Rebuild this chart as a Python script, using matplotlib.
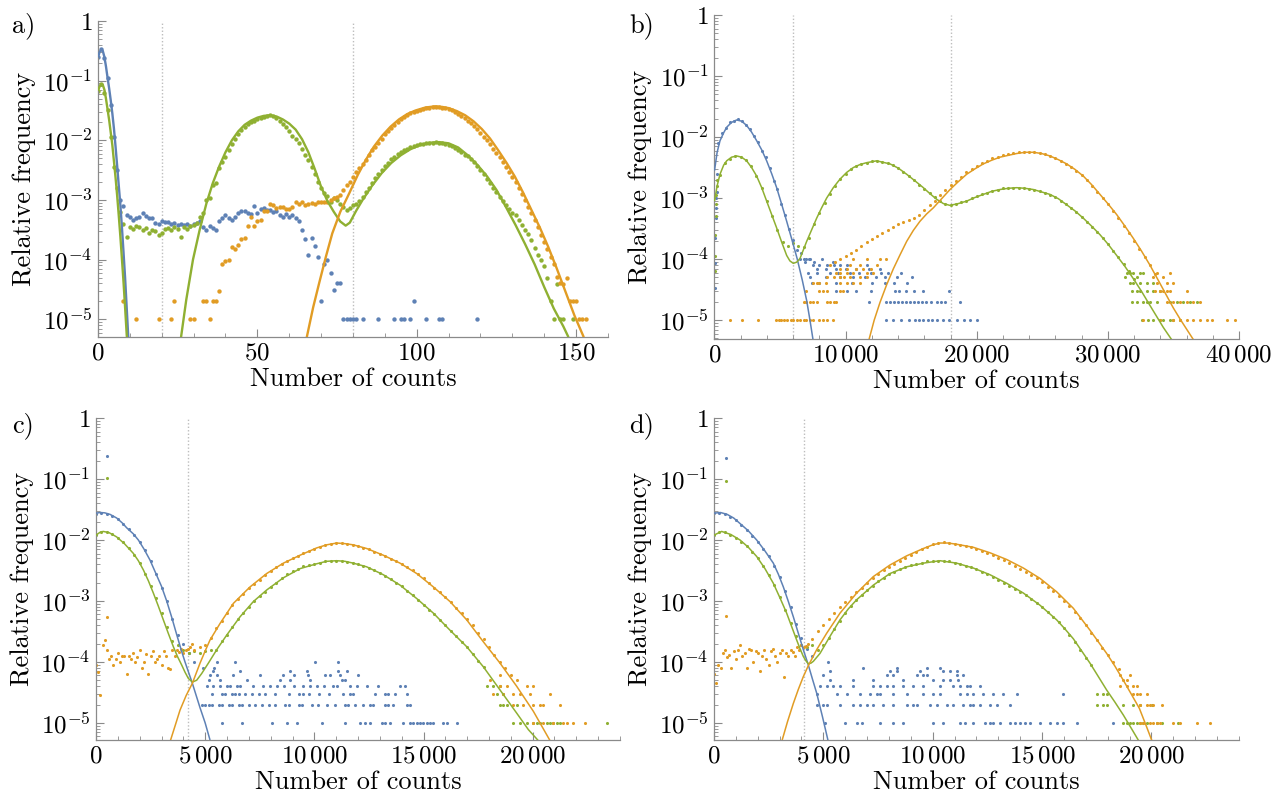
import numpy as np
import matplotlib.pyplot as plt
from matplotlib.ticker import MultipleLocator, LogLocator, NullFormatter

plt.rcParams['font.family'] = 'cmr10'
plt.rcParams['mathtext.fontset'] = 'cm'
plt.rcParams['axes.unicode_minus'] = False

BLUE = '#5E81B5'
ORANGE = '#E19C24'
GREEN = '#8FB032'
FRAME = '#8a8a8a'

# ---------------- panel a) : one bin per count, values are log10(relative frequency)
a_blue_log = [-0.6, -0.47, -0.62, -0.95, -1.4, -1.95, -2.5, -3.0, -3.1, -3.25,
              -3.28, -3.33, -3.31, -3.28, -3.22, -3.27, -3.31, -3.3, -3.38, -3.4,
              -3.35, -3.37, -3.37, -3.4, -3.39, -3.42, -3.4, -3.42, -3.4, -3.43,
              -3.41, -3.38, -3.36, -3.45, -3.5, -3.43, -3.47, -3.5, -3.35, -3.3,
              -3.25, -3.3, -3.33, -3.28, -3.22, -3.18, -3.19, -3.21, -3.24, -3.1,
              -3.22, -3.15, -3.14, -3.17, -3.16, -3.2, -3.18, -3.25, -3.28, -3.24,
              -3.28, -3.26, -3.3, -3.36, -3.5, -3.65, -3.92, -3.64, -3.77, -3.95,
              -4.7, -4.08, -4.0, -4.22, -4.51, -4.39, -4.39]
a_blue_sparse = [(1, [77, 78, 79, 80, 81, 83, 88, 93, 95, 96, 98, 103, 107, 108, 119]),
                 (2, [99])]
a_green_log = [-1.17, -1.05, -1.2, -1.5, -1.95, -2.45, -2.8, -3.2, -3.4, -3.62,
               -3.45, -3.48, -3.44, -3.46, -3.5, -3.47, -3.55, -3.5, -3.52, -3.58,
               -3.56, -3.48, -3.47, -3.5, -3.46, -3.49, -3.62, -3.45, -3.48, -3.43,
               -3.42, -3.38, -3.28, -3.22, -3.0, -2.97, -2.75, -2.72, -2.47, -2.36,
               -2.28, -2.17, -2.06, -1.97, -1.89, -1.83, -1.78, -1.73, -1.69, -1.67,
               -1.64, -1.62, -1.61, -1.59, -1.58, -1.6, -1.62, -1.67, -1.72, -1.78,
               -1.84, -1.92, -1.98, -2.04, -2.14, -2.25, -2.33, -2.45, -2.56, -2.7,
               -2.8, -2.88, -2.94, -3.04, -2.97, -3.0, -3.06, -3.12, -3.17, -3.14,
               -3.08, -3.06, -3.02, -2.95, -2.87, -2.8, -2.72, -2.63, -2.57, -2.5,
               -2.43, -2.38, -2.32, -2.28, -2.23, -2.2, -2.17, -2.15, -2.12, -2.1,
               -2.08, -2.07, -2.06, -2.05, -2.04, -2.04, -2.03, -2.04, -2.05, -2.06,
               -2.08, -2.1, -2.13, -2.16, -2.19, -2.24, -2.27, -2.32, -2.37, -2.43,
               -2.5, -2.56, -2.64, -2.72, -2.8, -2.87, -2.95, -3.02, -3.08, -3.15,
               -3.22, -3.26, -3.33, -3.42, -3.5, -3.57, -3.67, -3.8, -3.92, -4.0,
               -4.11, -4.3, -4.7, -5.0, -4.4, -5.0, -5.0]
a_green_sparse = [(1, [149])]
a_orange_sparse = [(1, [12, 19, 23, 29, 30, 35]),
                   (2, [8, 24, 33, 34, 36, 37])]
a_orange_start = 38
a_orange_log = [-4.52, -4.08, -4.03, -4.0, -3.78, -3.82, -3.75, -3.66, -3.64, -3.44,
                -3.28, -3.44, -3.36, -3.33, -3.19, -3.19, -3.06, -3.08, -3.14, -3.12,
                -3.11, -3.15, -3.15, -3.12, -3.03, -3.06, -3.04, -3.08, -3.06, -3.05,
                -3.07, -3.04, -3.03, -3.04, -3.03, -3.0, -2.97, -2.95, -2.92, -2.83,
                -2.75, -2.7, -2.62, -2.53, -2.47, -2.39, -2.33, -2.25, -2.17, -2.11,
                -2.04, -1.97, -1.9, -1.84, -1.79, -1.74, -1.69, -1.65, -1.61, -1.58,
                -1.55, -1.53, -1.51, -1.49, -1.47, -1.46, -1.45, -1.44, -1.44, -1.44,
                -1.45, -1.46, -1.48, -1.5, -1.53, -1.56, -1.59, -1.63, -1.67, -1.71,
                -1.76, -1.81, -1.87, -1.94, -2.0, -2.07, -2.14, -2.21, -2.28, -2.37,
                -2.44, -2.53, -2.62, -2.7, -2.8, -2.9, -3.0, -3.12, -3.22, -3.33,
                -3.45, -3.58, -3.7, -3.83, -3.95, -4.08, -4.29, -4.39, -4.4, -4.31,
                -4.7, -4.7, -4.7, -5.0, -5.0, -5.0]

# fitted curves, (count, log10 frequency)
a_blue_fit = [(0, -0.61), (0.5, -0.52), (1, -0.48), (1.5, -0.5), (2, -0.6), (2.5, -0.76),
              (3, -0.95), (3.5, -1.13), (4, -1.33), (4.5, -1.55), (5, -1.8), (5.5, -2.1),
              (6, -2.42), (6.5, -2.75), (7, -3.07), (7.5, -3.45), (8, -3.87), (8.5, -4.3),
              (9, -4.8), (9.5, -5.3)]
a_green_fit_low = [(0, -1.17), (0.5, -1.1), (1, -1.06), (1.5, -1.07), (2, -1.15), (2.5, -1.3),
                   (3, -1.48), (3.5, -1.66), (4, -1.87), (4.5, -2.08), (5, -2.35), (5.5, -2.62),
                   (6, -2.92), (6.5, -3.25), (7, -3.6), (7.5, -3.98), (8, -4.37), (8.5, -4.8),
                   (9, -5.25), (9.1, -5.32)]
a_green_fit_high = [(26.0, -5.32), (27.7, -4.67), (29.8, -4.0), (31.9, -3.5), (34, -3.06),
                    (36, -2.72), (38, -2.44), (40, -2.2), (42, -2.0), (44, -1.85), (46, -1.74),
                    (48, -1.67), (50, -1.62), (52, -1.59), (54, -1.58), (56, -1.6), (58, -1.65),
                    (60, -1.72), (62, -1.82), (64, -1.98), (66, -2.2), (68, -2.48), (70, -2.78),
                    (72, -3.02), (74, -3.2), (76, -3.36), (77.7, -3.43), (79, -3.38), (81, -3.18),
                    (83, -3.0), (86, -2.76), (89, -2.55), (92, -2.38), (95, -2.25), (98, -2.15),
                    (101, -2.08), (104, -2.04), (107, -2.03), (110, -2.05), (113, -2.12),
                    (116, -2.25), (119, -2.41), (122, -2.6), (125, -2.83), (128, -3.12),
                    (131, -3.42), (134, -3.74), (137, -4.08), (140, -4.46), (143, -4.82),
                    (146, -5.12), (147.6, -5.3)]
a_orange_fit = [(65.5, -5.3), (67.5, -4.8), (69.4, -4.39), (71.5, -3.95), (73.5, -3.56),
                (76, -3.2), (78.8, -2.89), (81.5, -2.58), (84, -2.33), (86.5, -2.11),
                (89.2, -1.92), (91.8, -1.77), (94.4, -1.65), (97, -1.56), (99.6, -1.5),
                (102.7, -1.45), (105.8, -1.43), (108, -1.44), (110, -1.46), (112.6, -1.51),
                (115.2, -1.58), (117.8, -1.68), (120.4, -1.81), (123, -1.97), (125.6, -2.17),
                (128.2, -2.38), (130.8, -2.61), (133.4, -2.88), (136, -3.17), (138.6, -3.46),
                (141.2, -3.78), (143.8, -4.13), (146.4, -4.5), (149.5, -4.94), (152.4, -5.3)]

# ---------------- panel b)
b_blue_step = 300
b_blue_log = [-2.45, -2.1, -1.93, -1.85, -1.76, -1.74, -1.71, -1.74, -1.81, -1.87,
              -1.99, -2.08, -2.23, -2.33, -2.5, -2.72, -2.85, -3.1, -3.28, -3.5,
              -3.68, -3.85, -3.9, -4.05, -4.0]
b_blue_first = [(20, -4.48), (40, -4.07), (60, -3.66), (80, -3.33), (100, -3.17),
                (130, -3.0), (160, -2.9), (190, -2.6)]
b_green_first = [(20, -4.2), (40, -3.95), (60, -3.6), (80, -3.3), (100, -3.1),
                 (130, -2.95), (160, -2.8), (190, -2.7)]
b_green_step = 400
b_green_log = [-2.95, -2.62, -2.43, -2.36, -2.31, -2.33, -2.38, -2.48, -2.64, -2.83,
               -3.05, -3.3, -3.52, -3.72, -3.78, -3.74, -3.78, -3.8, -3.65, -3.42,
               -3.24, -3.08, -2.93, -2.8, -2.69, -2.6, -2.52, -2.47, -2.44, -2.42,
               -2.4, -2.39, -2.41, -2.43, -2.46, -2.51, -2.58, -2.64, -2.7, -2.78,
               -2.85, -2.92, -2.98, -3.04, -3.09, -3.11, -3.1, -3.07, -3.04, -3.0,
               -2.97, -2.94, -2.91, -2.88, -2.86, -2.84, -2.83, -2.83, -2.83, -2.84,
               -2.85, -2.87, -2.89, -2.92, -2.95, -2.99, -3.04, -3.1, -3.16, -3.23,
               -3.31, -3.39, -3.47, -3.56, -3.65, -3.75, -3.86, -3.97, -4.08, -4.2, -4.32]
b_orange_start = 8800
b_orange_step = 400
b_orange_log = [-4.1, -4.05, -4.0, -3.95, -3.9, -3.85, -3.78, -3.72, -3.67, -3.62,
                -3.57, -3.52, -3.47, -3.43, -3.4, -3.36, -3.32, -3.27, -3.2, -3.12,
                -3.04, -2.95, -2.86, -2.79, -2.72, -2.65, -2.58, -2.52, -2.47, -2.43,
                -2.39, -2.35, -2.32, -2.3, -2.28, -2.26, -2.25, -2.24, -2.24, -2.25,
                -2.26, -2.28, -2.31, -2.34, -2.39, -2.44, -2.49, -2.56, -2.63, -2.71,
                -2.8, -2.9, -3.0, -3.1, -3.21, -3.33, -3.45, -3.57, -3.7, -3.83,
                -3.96, -4.1, -4.25]
# sparse bins: (number of events per 1e5, bin positions)
b_blue_noise = [(10, [6500, 6800, 7000, 7300, 8200]),
                (9, [7600, 9000]),
                (8, [7500, 8000, 8600, 9100, 9600, 10100, 11600]),
                (7, [7800, 8500, 9300, 10000, 10800, 11800, 12600]),
                (6, [7100, 7800, 8800, 9400, 10300, 11000, 11900, 12700, 13200, 14200]),
                (5, [7300, 8500, 9600, 10600, 11500, 12300, 13000, 13900, 15100]),
                (4, [7400, 8000, 9300, 10500, 12000, 13000, 13700, 14700]),
                (3, [9300, 10100, 10800, 11900, 13800, 14100, 14600, 15200, 15900, 17900]),
                (2, [11800, 13100, 13400, 13700, 14000, 14300, 14600, 14900, 15200, 15500,
                     15800, 16100, 16500, 17000, 17300, 17600, 18700]),
                (1, [13100, 13600, 14200, 14800, 15300, 15600, 15900, 16300, 16600, 17000,
                     17400, 17900, 18500, 19000, 19500, 20000])]
b_orange_noise = [(1, [1200, 2100, 3300, 4700, 4900, 5100, 5300, 5500, 5800, 6000, 6300,
                       6500, 6800, 7000, 7300, 7500, 8000, 8300, 8600, 9000]),
                  (2, [6800, 7000, 7300, 7500, 7800, 8600, 8800, 9100, 9300]),
                  (3, [7000, 8000, 8300, 8600, 9600, 9800]),
                  (4, [7500, 7800, 8000, 8500, 9600, 10100, 10600, 11100]),
                  (5, [8600, 9100, 9600, 9900, 10300, 11100, 11600]),
                  (6, [9300, 9600, 10100, 10600, 11600, 12100]),
                  (7, [9600, 10100, 10800, 11300, 11900]),
                  (8, [10300, 11100, 12400]),
                  (10, [10600, 11600, 12600, 13100]),
                  (6, [33720, 34740]),
                  (5, [33470, 34230]),
                  (4, [33720, 34480, 34990]),
                  (3, [33590, 33970, 34230, 34480, 34740, 36010]),
                  (2, [34480, 34990, 35500, 36010, 36520, 37020]),
                  (1, [32700, 33970, 34990, 35500, 36010, 36520, 37020, 37530, 37910,
                       39060, 39690])]
b_green_noise = [(6, [31430, 31690, 31940, 32450, 32700]),
                 (5, [31310, 32200]),
                 (4, [31690, 31940, 32450, 32960, 33470]),
                 (3, [31820, 32200, 32450, 32960, 33470, 33970]),
                 (2, [31820, 32200, 32700, 32960, 33210, 33720, 34740, 35250, 35750,
                      36260, 36770]),
                 (1, [32580, 33090, 33470, 33970, 34230, 34740, 34990, 35500])]
b_blue_fit = [(0, -2.55), (200, -2.25), (420, -2.06), (700, -1.93), (928, -1.84),
              (1300, -1.76), (1690, -1.72), (2070, -1.74), (2453, -1.81), (2830, -1.92),
              (3216, -2.06), (3600, -2.21), (3978, -2.39), (4360, -2.6), (4741, -2.83),
              (5120, -3.1), (5504, -3.38), (5900, -3.68), (6300, -3.99), (6700, -4.35),
              (7030, -4.68), (7280, -5.0), (7520, -5.33)]
b_green_fit = [(0, -3.05), (200, -2.8), (420, -2.61), (700, -2.46), (928, -2.39), (1300, -2.33),
               (1690, -2.31), (2070, -2.33), (2453, -2.39), (2830, -2.5), (3216, -2.64),
               (3600, -2.83), (3978, -3.05), (4360, -3.27), (4741, -3.49), (5120, -3.72),
               (5504, -3.94), (5750, -4.03), (6012, -4.07), (6270, -4.05), (6520, -3.99),
               (7029, -3.71), (7410, -3.52), (7791, -3.33), (8170, -3.16), (8554, -3.0),
               (9060, -2.83), (9571, -2.69), (10080, -2.58), (10588, -2.5), (11100, -2.45),
               (11605, -2.42), (12368, -2.39), (13385, -2.44), (14020, -2.51), (14656, -2.61),
               (15300, -2.72), (15927, -2.83), (16440, -2.93), (16944, -3.02), (17450, -3.09),
               (17959, -3.12), (18600, -3.09), (19230, -3.05), (19870, -2.99), (20501, -2.94),
               (21140, -2.89), (21772, -2.86), (22400, -2.84), (23043, -2.83), (23680, -2.84),
               (24314, -2.86), (24950, -2.9), (25585, -2.94), (26220, -3.01), (26856, -3.11),
               (27490, -3.21), (28127, -3.33), (28760, -3.46), (29398, -3.6), (30030, -3.76),
               (30669, -3.94), (31300, -4.12), (31940, -4.32), (32570, -4.53), (33211, -4.76),
               (33720, -4.94), (34228, -5.12), (34990, -5.36)]
b_orange_fit = [(11732, -5.36), (12180, -5.0), (12622, -4.71), (13130, -4.42), (13639, -4.16),
                (14150, -3.93), (14656, -3.71), (15164, -3.53), (15672, -3.38), (16180, -3.26),
                (16689, -3.16), (17325, -3.01), (17961, -2.86), (18600, -2.73), (19230, -2.61),
                (19870, -2.52), (20501, -2.44), (21140, -2.38), (21772, -2.33), (22400, -2.3),
                (23043, -2.27), (23680, -2.25), (24314, -2.25), (24950, -2.27), (25585, -2.31),
                (26220, -2.37), (26856, -2.44), (27490, -2.53), (28127, -2.64), (28760, -2.78),
                (29398, -2.94), (30030, -3.1), (30669, -3.27), (31300, -3.46), (31940, -3.66),
                (32570, -3.87), (33211, -4.1), (33850, -4.35), (34482, -4.6), (34990, -4.8),
                (35499, -4.98), (36070, -5.17), (36643, -5.36)]

# ---------------- panel c)
c_blue_log = [-1.57, -1.55, -1.57, -1.6, -1.65, -1.73, -1.82, -1.92, -2.03, -2.17,
              -2.35, -2.55, -2.78, -3.0, -3.3, -3.55, -3.7, -3.85, -4.0]
c_green_log = [-1.92, -1.87, -1.87, -1.9, -1.96, -2.04, -2.13, -2.24, -2.38, -2.55,
               -2.75, -2.95, -3.2, -3.42, -3.65, -3.72, -3.8, -3.85, -3.82, -3.85,
               -3.82, -3.8, -3.8, -3.65, -3.55, -3.42, -3.3, -3.2, -3.1, -3.0,
               -2.92, -2.85, -2.77, -2.7, -2.63, -2.56, -2.51, -2.47, -2.43, -2.41,
               -2.39, -2.37, -2.35, -2.34, -2.34, -2.35, -2.36, -2.38, -2.4, -2.43,
               -2.46, -2.5, -2.54, -2.59, -2.64, -2.7, -2.76, -2.83, -2.9, -2.98,
               -3.06, -3.14, -3.22, -3.31, -3.4, -3.49, -3.58, -3.67, -3.76, -3.87,
               -3.98, -4.08]
c_orange_low = [-4.05, -4.16, -4.54, -3.72, -3.64, -3.8, -3.95, -3.9, -4.05, -3.95,
                -3.85, -4.0, -3.9, -3.9, -4.2, -3.9, -3.95, -3.85, -4.0, -3.92,
                -3.8, -4.1, -4.0, -3.87, -4.2, -3.9, -3.82, -4.0, -3.95, -3.9,
                -4.05, -3.82, -3.9, -4.1, -4.12, -3.8, -3.9, -3.8, -3.83, -3.78,
                -3.85, -3.8, -3.78, -3.75, -3.7]
c_orange_log = [-3.8, -3.75, -3.72, -3.6, -3.45, -3.33, -3.2, -3.07, -2.97, -2.88,
                -2.79, -2.72, -2.65, -2.57, -2.51, -2.45, -2.4, -2.35, -2.3, -2.26,
                -2.22, -2.18, -2.14, -2.11, -2.08, -2.07, -2.05, -2.05, -2.06, -2.08,
                -2.1, -2.13, -2.15, -2.19, -2.23, -2.27, -2.31, -2.35, -2.4, -2.45,
                -2.5, -2.56, -2.63, -2.7, -2.78, -2.86, -2.94, -3.02, -3.11, -3.2,
                -3.3, -3.4, -3.52, -3.62, -3.75, -3.88, -4.0, -4.1, -4.22]
c_outliers = [(490, -0.63, BLUE), (490, -0.99, GREEN), (490, -3.26, ORANGE)]
c_blue_noise = [(1, [5750, 6670, 8050, 8730, 9190, 10340, 11400, 12090, 12320, 12550, 13080,
                     13240, 13470, 14080, 14380, 14540, 14690, 14840, 14990, 15150, 15300,
                     15450, 15910, 16060, 16520]),
                (2, [4860, 5010, 5160, 5310, 5620, 5770, 6080, 6230, 6530, 6690, 6990, 7300,
                     7600, 7910, 8220, 8670, 8830, 9280, 9430, 9880, 10190, 10570, 10950,
                     11410, 11560, 11870, 12250, 12550, 12700, 13240, 13390, 13620, 14230,
                     14380]),
                (3, [5310, 5770, 5920, 6230, 6380, 6530, 6840, 7150, 7450, 7760, 8220, 8830,
                     9280, 9500, 9740, 10200, 10650, 11330, 11640, 11790, 12780, 13240, 13390,
                     13700, 14230]),
                (4, [5070, 5380, 5680, 5990, 6140, 6450, 6600, 7210, 7670, 7970, 8280, 8590,
                     9050, 9500, 9810, 10120, 10420, 10870, 11030, 11640, 11940, 12400, 12930,
                     13930, 14150]),
                (5, [5160, 5690, 6910, 8430, 8890, 9810, 11260, 11410]),
                (6, [5220, 5530, 6290, 7500, 8580, 9050, 9730, 10490, 10720, 11180, 12020]),
                (7, [5380, 6600, 8890, 9650, 11100, 11480]),
                (8, [4900, 5400]),
                (10, [5530, 6370, 10030, 11100])]
c_orange_noise = [(6, [18500]), (5, [18050, 19300]),
                  (4, [18510, 18810, 19730, 20030]),
                  (3, [18200, 18660, 19120, 19420, 19880, 20800]),
                  (2, [19120, 19580, 20030, 20340, 20490, 21260]),
                  (1, [20030, 20490, 20950, 21410, 21560, 21870, 22400])]
c_green_noise = [(4, [17900, 18200, 18500]), (3, [18350, 18660]),
                 (2, [18500, 18660, 18810, 19270]),
                 (1, [19120, 19420, 19730, 20030, 20190, 20340, 20650, 20800, 20950,
                      21100, 21260, 23390])]
c_blue_fit = [(0, -1.56), (200, -1.55), (400, -1.555), (641, -1.58), (947, -1.64), (1200, -1.72),
              (1405, -1.8), (1710, -1.9), (1939, -2.0), (2200, -2.15), (2474, -2.33),
              (2779, -2.58), (3000, -2.76), (3237, -3.0), (3470, -3.27), (3695, -3.55),
              (3900, -3.8), (4077, -4.0), (4413, -4.35), (4764, -4.75), (5000, -5.0),
              (5222, -5.28)]
c_green_fit = [(0, -1.92), (200, -1.87), (336, -1.86), (600, -1.88), (947, -1.95), (1300, -2.06),
               (1710, -2.22), (1940, -2.34), (2168, -2.49), (2400, -2.67), (2626, -2.87),
               (2850, -3.08), (3084, -3.31), (3310, -3.53), (3543, -3.75), (3730, -3.91),
               (3924, -4.05), (4080, -4.17), (4230, -4.27), (4413, -4.33), (4611, -4.3),
               (4840, -4.19), (5146, -4.02), (5528, -3.8), (5986, -3.56), (6597, -3.26),
               (7207, -3.01), (7818, -2.82), (8582, -2.62), (9345, -2.47), (10108, -2.39),
               (10560, -2.35), (11024, -2.34), (11400, -2.35), (11787, -2.38), (12398, -2.44),
               (13161, -2.57), (13925, -2.74), (14688, -2.96), (15452, -3.2), (16215, -3.48),
               (16979, -3.75), (17742, -4.08), (18506, -4.46), (19270, -4.84), (19804, -5.11),
               (20308, -5.31)]
c_orange_fit = [(3390, -5.31), (3620, -5.05), (3848, -4.79), (4130, -4.55), (4413, -4.35),
                (4764, -4.02), (5000, -3.82), (5222, -3.64), (5680, -3.37), (6291, -3.04),
                (7054, -2.77), (7818, -2.55), (8582, -2.38), (9345, -2.25), (10108, -2.13),
                (10560, -2.08), (11024, -2.05), (11400, -2.06), (11787, -2.08), (12398, -2.14),
                (13161, -2.25), (13925, -2.38), (14688, -2.55), (15452, -2.77), (16215, -3.01),
                (16979, -3.31), (17742, -3.67), (18506, -4.02), (19270, -4.4), (20033, -4.81),
                (20827, -5.31)]

# ---------------- panel d)
d_blue_log = [-1.56, -1.55, -1.57, -1.62, -1.68, -1.75, -1.84, -1.93, -2.03, -2.14,
              -2.27, -2.42, -2.6, -2.84, -3.1, -3.37, -3.6, -3.78, -3.9]
d_green_log = [-1.92, -1.87, -1.87, -1.92, -1.97, -2.03, -2.1, -2.19, -2.29, -2.42,
               -2.57, -2.74, -2.93, -3.14, -3.36, -3.58, -3.72, -3.75, -3.72, -3.8,
               -3.72, -3.6, -3.46, -3.33, -3.2, -3.08, -2.98, -2.9, -2.82, -2.75,
               -2.68, -2.62, -2.56, -2.52, -2.48, -2.44, -2.41, -2.39, -2.37, -2.35,
               -2.34, -2.34, -2.34, -2.35, -2.37, -2.39, -2.42, -2.45, -2.48, -2.52,
               -2.56, -2.6, -2.65, -2.7, -2.75, -2.8, -2.85, -2.9, -2.96, -3.03,
               -3.1, -3.18, -3.26, -3.35, -3.44, -3.55, -3.67, -3.8, -3.93, -4.05]
d_orange_low = [-4.2, -4.35, -4.05, -4.1, -3.85, -3.8, -3.92, -3.88, -4.1, -3.82,
                -3.95, -3.8, -3.72, -3.9, -3.85, -4.1, -3.78, -3.8, -4.0, -3.82,
                -3.85, -4.15, -3.9, -3.8, -3.95, -4.05, -3.82, -3.78, -3.9, -4.0,
                -3.85, -3.8, -4.25, -3.85, -3.9, -3.8, -3.83, -3.9, -3.75, -3.8,
                -3.72, -3.76, -3.74, -3.7]
d_orange_log = [-3.62, -3.5, -3.4, -3.3, -3.2, -3.1, -3.01, -2.93, -2.86, -2.79,
                -2.7, -2.62, -2.56, -2.5, -2.44, -2.39, -2.34, -2.29, -2.24, -2.19,
                -2.15, -2.11, -2.07, -2.05, -2.04, -2.05, -2.06, -2.08, -2.1, -2.12,
                -2.15, -2.18, -2.21, -2.25, -2.29, -2.33, -2.38, -2.43, -2.48, -2.53,
                -2.58, -2.63, -2.69, -2.77, -2.84, -2.92, -3.0, -3.09, -3.18, -3.28,
                -3.4, -3.52, -3.64, -3.77, -3.88, -4.0, -4.12]
d_outliers = [(549, -0.66, BLUE), (549, -1.03, GREEN), (549, -3.24, ORANGE)]
d_blue_noise = [(1, [5080, 5990, 6520, 6750, 7590, 8200, 8660, 10030, 10480, 11250, 11470,
                     11850, 12390, 12600, 12770, 13070, 13530, 13760, 13990, 14220, 14450,
                     14900, 15360, 15670, 15970, 16580, 18220]),
                (2, [4690, 5000, 5150, 5760, 6370, 6680, 6980, 7280, 7740, 8200, 8810, 9110,
                     9270, 9880, 10180, 10640, 10940, 11400, 11700, 11850, 12160, 12620,
                     12920, 13530]),
                (3, [4690, 5610, 6060, 6670, 7130, 7440, 7590, 8200, 8810, 9570, 10030,
                     10330, 11250, 11550, 11850, 12300, 12770, 13220, 13840, 15970]),
                (4, [4850, 5150, 5460, 5760, 6370, 7280, 7590, 7900, 8200, 8660, 9120, 9570,
                     10330, 10940, 11250, 11550, 11700, 12160]),
                (5, [5300, 6370, 7280, 8660, 10030, 10480, 10790, 11150]),
                (6, [5000, 7900, 8200, 9270, 9570, 9730, 11090, 11400]),
                (7, [5300, 8050, 8350, 9420, 10490, 10790, 11100]),
                (8, [6830, 8350, 9730, 10330]),
                (10, [5230])]
d_orange_noise = [(6, [18560, 19020]), (5, [18710, 18860]),
                  (4, [18560, 18860, 19170, 19320]),
                  (3, [19170, 19320, 19470, 19780]),
                  (2, [19470, 19780, 19930, 20080, 20460]),
                  (1, [19470, 19630, 19930, 20080, 20230, 20390, 21000, 21300, 22070, 22670])]
d_green_noise = [(3, [17490, 17800, 17950]),
                 (2, [17490, 17800, 17950, 18710, 19170, 19470, 20010]),
                 (1, [18710, 18860, 19020, 19170, 19320, 19470, 19630, 19780, 20240, 20460,
                      21220])]
d_blue_fit = [(0, -1.56), (300, -1.55), (600, -1.58), (900, -1.64), (1189, -1.73), (1570, -1.85),
              (1950, -2.0), (2330, -2.18), (2712, -2.38), (2940, -2.56), (3170, -2.77),
              (3400, -3.01), (3627, -3.26), (3855, -3.53), (4084, -3.8), (4312, -4.05),
              (4500, -4.28), (4693, -4.51), (4960, -4.9), (5227, -5.31)]
d_green_fit = [(0, -1.92), (350, -1.86), (770, -1.91), (1189, -2.0), (1570, -2.12), (1950, -2.27),
               (2330, -2.47), (2712, -2.71), (3017, -2.95), (3322, -3.2), (3550, -3.42),
               (3779, -3.64), (3930, -3.78), (4084, -3.91), (4200, -3.98), (4312, -4.03),
               (4430, -4.02), (4541, -3.99), (4846, -3.86), (5303, -3.58), (5760, -3.31),
               (6140, -3.13), (6522, -2.98), (7284, -2.74), (8046, -2.55), (8808, -2.44),
               (9570, -2.38), (10331, -2.34), (11093, -2.38), (11855, -2.46), (12617, -2.57),
               (13379, -2.71), (14141, -2.87), (14903, -3.07), (15665, -3.31), (16046, -3.46),
               (16427, -3.62), (16808, -3.82), (17189, -4.02), (17570, -4.24), (17950, -4.46),
               (18330, -4.66), (18712, -4.87), (19080, -5.09), (19444, -5.31)]
d_orange_fit = [(3093, -5.31), (3360, -4.98), (3627, -4.68), (3855, -4.45), (4084, -4.24),
                (4312, -4.06), (4693, -3.8), (5150, -3.53), (5760, -3.2), (6522, -2.87),
                (7284, -2.6), (8046, -2.41), (8808, -2.26), (9570, -2.14), (10000, -2.08),
                (10331, -2.05), (10700, -2.05), (11093, -2.07), (11855, -2.12), (12617, -2.21),
                (13379, -2.32), (14141, -2.46), (14903, -2.63), (15665, -2.85), (16427, -3.12),
                (17189, -3.48), (17570, -3.67), (17950, -3.86), (18330, -4.07), (18712, -4.3),
                (19080, -4.53), (19444, -4.76), (19740, -5.03), (20038, -5.31)]


def logdots(ax, start, step, logs, color, s):
    x = start + step * np.arange(len(logs))
    ax.scatter(x, np.power(10.0, logs), s=s, color=color, linewidths=0, zorder=2)


def pointdots(ax, pts, color, s):
    x = [p[0] for p in pts]
    y = [10.0 ** p[1] for p in pts]
    ax.scatter(x, y, s=s, color=color, linewidths=0, zorder=2)


def rowdots(ax, rows, color, s):
    for n, xs in rows:
        ax.scatter(xs, [n * 1e-5] * len(xs), s=s, color=color, linewidths=0, zorder=2)


def fitline(ax, pts, color, lw):
    x = [p[0] for p in pts]
    y = [10.0 ** p[1] for p in pts]
    ax.plot(x, y, color=color, lw=lw, zorder=3, solid_capstyle='butt')


def xfmt(v):
    v = int(round(v))
    if v >= 1000:
        return r'$%d\,%03d$' % (v // 1000, v % 1000)
    return r'$%d$' % v


def style(ax, xmax, xmajor, xminor, ylow):
    ax.set_yscale('log')
    ax.set_ylim(ylow, 1)
    ax.set_xlim(0, xmax)
    for side in ['top', 'right']:
        ax.spines[side].set_visible(False)
    for side in ['left', 'bottom']:
        ax.spines[side].set_color(FRAME)
        ax.spines[side].set_linewidth(0.9)
    ax.set_yticks([1, 1e-1, 1e-2, 1e-3, 1e-4, 1e-5])
    ax.set_yticklabels(['$1$', '$10^{-1}$', '$10^{-2}$', '$10^{-3}$', '$10^{-4}$', '$10^{-5}$'])
    ax.yaxis.set_minor_locator(LogLocator(base=10, subs=np.arange(2, 10), numticks=30))
    ax.yaxis.set_minor_formatter(NullFormatter())
    ax.set_xticks(xmajor)
    ax.set_xticklabels([xfmt(v) for v in xmajor])
    ax.xaxis.set_minor_locator(MultipleLocator(xminor))
    ax.tick_params(which='both', direction='in', color=FRAME, labelcolor='black',
                   labelsize=18)
    ax.tick_params(which='major', length=6, width=0.8)
    ax.tick_params(which='minor', length=3.2, width=0.6)
    ax.tick_params(axis='x', which='major', pad=4)
    ax.tick_params(axis='y', which='major', pad=4)
    ax.annotate('Relative frequency', xy=(0, 0.5), xycoords='axes fraction',
                xytext=(-74 * 0.72, 0), textcoords='offset points', rotation=90,
                ha='center', va='center', fontsize=19)
    ax.annotate('Number of counts', xy=(0.5, 0), xycoords='axes fraction',
                xytext=(0, -42 * 0.72), textcoords='offset points',
                ha='center', va='center', fontsize=19)


fig = plt.figure(figsize=(12.85, 7.95), dpi=100)
axa = fig.add_axes([0.07626, 0.57610, 0.39689, 0.39748])
axb = fig.add_axes([0.55603, 0.57358, 0.40817, 0.40755])
axc = fig.add_axes([0.07471, 0.06918, 0.40778, 0.40503])
axd = fig.add_axes([0.55564, 0.06918, 0.40856, 0.40503])

# a)
sa = 10
logdots(axa, 0, 1, a_blue_log, BLUE, sa)
rowdots(axa, a_blue_sparse, BLUE, sa)
logdots(axa, 0, 1, a_green_log, GREEN, sa)
rowdots(axa, a_green_sparse, GREEN, sa)
logdots(axa, a_orange_start, 1, a_orange_log, ORANGE, sa)
rowdots(axa, a_orange_sparse, ORANGE, sa)
fitline(axa, a_blue_fit, BLUE, 1.7)
fitline(axa, a_green_fit_low, GREEN, 1.7)
fitline(axa, a_green_fit_high, GREEN, 1.7)
fitline(axa, a_orange_fit, ORANGE, 1.7)
for xv in [20, 80]:
    axa.axvline(xv, color='#bdbdbd', lw=1.0, ls=(0, (1, 1.5)), zorder=1)
style(axa, 160, [0, 50, 100, 150], 10, 5.05e-6)

# b)
sb = 5
logdots(axb, 0, b_blue_step, b_blue_log, BLUE, sb)
pointdots(axb, b_blue_first, BLUE, sb)
rowdots(axb, b_blue_noise, BLUE, sb)
logdots(axb, 0, b_green_step, b_green_log, GREEN, sb)
pointdots(axb, b_green_first, GREEN, sb)
rowdots(axb, b_green_noise, GREEN, sb)
logdots(axb, b_orange_start, b_orange_step, b_orange_log, ORANGE, sb)
rowdots(axb, b_orange_noise, ORANGE, sb)
fitline(axb, b_blue_fit, BLUE, 1.1)
fitline(axb, b_green_fit, GREEN, 1.1)
fitline(axb, b_orange_fit, ORANGE, 1.1)
for xv in [6000, 18000]:
    axb.axvline(xv, color='#bdbdbd', lw=1.0, ls=(0, (1, 1.5)), zorder=1)
style(axb, 40000, [0, 10000, 20000, 30000, 40000], 2000, 4.9e-6)

# c)
sc = 5
logdots(axc, 0, 250, c_blue_log, BLUE, sc)
rowdots(axc, c_blue_noise, BLUE, sc)
logdots(axc, 0, 250, c_green_log, GREEN, sc)
rowdots(axc, c_green_noise, GREEN, sc)
logdots(axc, 0, 100, c_orange_low, ORANGE, sc)
logdots(axc, 4500, 250, c_orange_log, ORANGE, sc)
rowdots(axc, c_orange_noise, ORANGE, sc)
for xo, lo, col in c_outliers:
    axc.scatter([xo], [10.0 ** lo], s=sc, color=col, linewidths=0, zorder=2)
fitline(axc, c_blue_fit, BLUE, 1.1)
fitline(axc, c_green_fit, GREEN, 1.1)
fitline(axc, c_orange_fit, ORANGE, 1.1)
axc.axvline(4200, color='#bdbdbd', lw=1.0, ls=(0, (1, 1.5)), zorder=1)
style(axc, 24000, [0, 5000, 10000, 15000, 20000], 1000, 5.25e-6)

# d)
logdots(axd, 0, 250, d_blue_log, BLUE, sc)
rowdots(axd, d_blue_noise, BLUE, sc)
logdots(axd, 0, 250, d_green_log, GREEN, sc)
rowdots(axd, d_green_noise, GREEN, sc)
logdots(axd, 0, 100, d_orange_low, ORANGE, sc)
logdots(axd, 4500, 250, d_orange_log, ORANGE, sc)
rowdots(axd, d_orange_noise, ORANGE, sc)
for xo, lo, col in d_outliers:
    axd.scatter([xo], [10.0 ** lo], s=sc, color=col, linewidths=0, zorder=2)
fitline(axd, d_blue_fit, BLUE, 1.1)
fitline(axd, d_green_fit, GREEN, 1.1)
fitline(axd, d_orange_fit, ORANGE, 1.1)
axd.axvline(4100, color='#bdbdbd', lw=1.0, ls=(0, (1, 1.5)), zorder=1)
style(axd, 24000, [0, 5000, 10000, 15000, 20000], 1000, 5.25e-6)

# panel letters
for txt, xp, yp in [('a)', 12, 26), ('b)', 629, 26), ('c)', 12, 426), ('d)', 629, 426)]:
    fig.text(xp / 1285, 1 - yp / 795, txt, ha='left', va='center', fontsize=19)

fig.savefig('out.png', dpi=100)
